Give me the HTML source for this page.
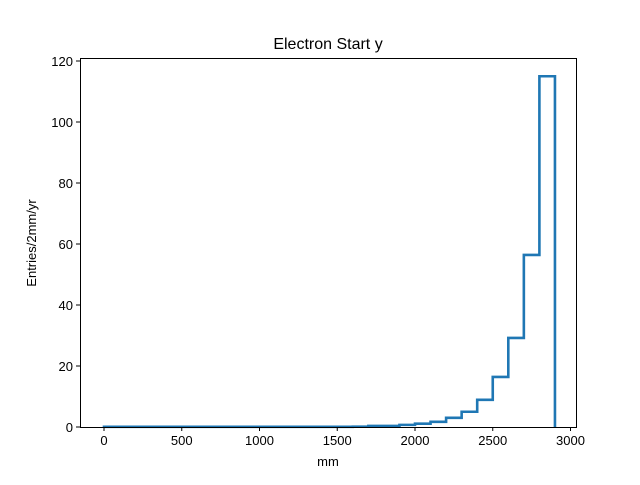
<!DOCTYPE html>
<html><head><meta charset="utf-8"><style>body{margin:0;background:#fff}svg text{font-family:"Liberation Sans","DejaVu Sans",sans-serif;fill:#000}</style></head>
<body>
<svg id="chart" width="640" height="480">
<rect width="640" height="480" fill="#fff"/>
<g id="plot"></g>
<text x="328" y="49" font-size="16" text-anchor="middle">Electron Start y</text>
<text x="328" y="466" font-size="13" text-anchor="middle">mm</text>
<text transform="translate(36,243) rotate(-90)" font-size="13" text-anchor="middle">Entries/2mm/yr</text>
</svg>
<script>
const binEdges=[0,100,200,300,400,500,600,700,800,900,1000,1100,1200,1300,1400,1500,1600,1700,1800,1900,2000,2100,2200,2300,2400,2500,2600,2700,2800,2900];
const counts=[0.05,0.05,0.05,0.05,0.05,0.05,0.05,0.05,0.05,0.05,0.05,0.05,0.05,0.05,0.05,0.05,0.1,0.35,0.35,0.7,1.1,1.7,3,5,8.9,16.4,29.2,56.4,115];
const xTicks=[0,500,1000,1500,2000,2500,3000];
const yTicks=[0,20,40,60,80,100,120];
const L=80,R=576,T=58,B=427;
const xs=v=>104+v*0.1555;
const ys=v=>427-v*3.05;
const ns="http://www.w3.org/2000/svg";
const g=document.getElementById('plot');
function mk(t,a){const e=document.createElementNS(ns,t);for(const k in a)e.setAttribute(k,a[k]);g.appendChild(e);return e;}
let d=`M${xs(binEdges[0])},${ys(0)}`;
counts.forEach((c,i)=>{d+=` L${xs(binEdges[i])},${ys(c)} L${xs(binEdges[i+1])},${ys(c)}`;});
d+=` L${xs(binEdges[binEdges.length-1])},${ys(0)}`;
const p=mk('path',{d:d,fill:'none',stroke:'#1f77b4','stroke-width':2.6,'stroke-linejoin':'miter'});


const fr=mk('rect',{x:L+0.5,y:T+0.5,width:R-L,height:B-T,fill:'none',stroke:'#000','stroke-width':1});


xTicks.forEach(v=>{const x=xs(v);mk('line',{x1:x,x2:x,y1:B,y2:B+4,stroke:'#000'});
const t=mk('text',{x:x,y:B+18,'font-size':13,'text-anchor':'middle'});t.textContent=v;

});
yTicks.forEach(v=>{const y=ys(v);mk('line',{x1:L-4,x2:L,y1:y,y2:y,stroke:'#000'});
const t=mk('text',{x:L-7,y:y+5,'font-size':13,'text-anchor':'end'});t.textContent=v;

});
</script>
</body></html>
